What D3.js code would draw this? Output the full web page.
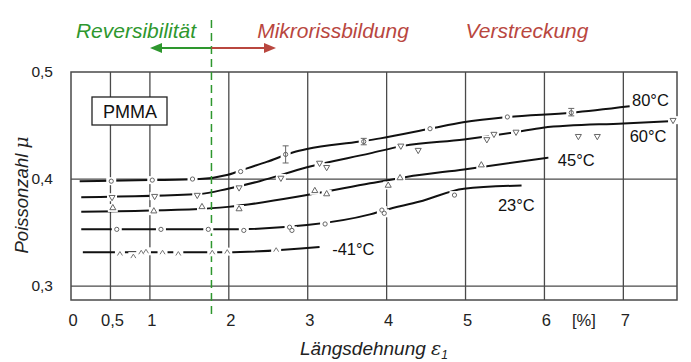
<!DOCTYPE html>
<html>
<head>
<meta charset="utf-8">
<script src="https://cdn.jsdelivr.net/npm/d3@7"></script>
<style>
  body { margin: 0; background: #fff; }
  svg { display: block; font-family: "Liberation Sans", Arial, sans-serif; }
</style>
</head>
<body>
<div id="chart"></div>
<script>
const W = 691, H = 362;
const xTicks = [0, 0.5, 1, 2, 3, 4, 5, 6, 7];
const xTickLabels = ["0", "0,5", "1", "2", "3", "4", "5", "6", "7"];
const xGrid = [0.5, 1, 2, 3, 4, 5, 6, 7];
const yTicks = [0.3, 0.4, 0.5];
const yTickLabels = ["0,3", "0,4", "0,5"];
const boundary = 1.78;

// fitted curves [strain %, mu]
const curve80 = [[0.11, 0.398], [1.0, 0.399], [1.63, 0.400], [1.99, 0.404], [2.23, 0.410], [2.48, 0.416], [2.82, 0.425], [2.99, 0.428], [3.66, 0.435], [3.92, 0.438], [4.55, 0.447], [4.97, 0.453], [5.53, 0.458], [6.34, 0.462], [7.08, 0.468]];
const curve60 = [[0.13, 0.383], [1.63, 0.386], [1.99, 0.391], [2.39, 0.398], [2.99, 0.411], [3.79, 0.424], [4.21, 0.431], [4.98, 0.437], [5.65, 0.444], [5.98, 0.448], [7.0, 0.452], [7.59, 0.454]];
const curve45 = [[0.13, 0.3695], [1.63, 0.372], [1.99, 0.374], [2.99, 0.385], [3.79, 0.396], [4.25, 0.402], [4.98, 0.409], [6.05, 0.420]];
const curve23 = [[0.13, 0.353], [1.99, 0.353], [2.99, 0.357], [3.79, 0.367], [3.98, 0.371], [4.42, 0.379], [4.98, 0.391], [5.71, 0.394]];
const curveM41 = [[0.15, 0.3316], [1.98, 0.3316], [3.15, 0.3366]];

// measured points
const pts80 = [[0.51, 0.398], [1.03, 0.399], [1.54, 0.400], [2.15, 0.407], [2.72, 0.423], [3.71, 0.435], [4.55, 0.447], [5.53, 0.458], [6.34, 0.462]];
const err80 = [[2.72, 0.415, 0.431], [3.71, 0.432, 0.438], [6.34, 0.459, 0.466]];
const pts60 = [[0.52, 0.383], [1.06, 0.384], [1.60, 0.385], [2.13, 0.392], [2.66, 0.401], [3.15, 0.415], [3.24, 0.411], [4.18, 0.431], [4.40, 0.427], [5.27, 0.437], [5.36, 0.442], [5.64, 0.444], [6.43, 0.440], [6.67, 0.440], [7.63, 0.455]];
const pts45 = [[0.53, 0.373], [1.05, 0.370], [1.66, 0.374], [2.13, 0.372], [3.09, 0.389], [3.24, 0.386], [4.02, 0.394], [4.17, 0.401], [5.20, 0.413]];
const pts23 = [[0.58, 0.353], [1.14, 0.353], [1.74, 0.353], [2.19, 0.352], [2.77, 0.355], [2.80, 0.352], [3.22, 0.358], [3.94, 0.371], [3.97, 0.368], [4.86, 0.385]];
const ptsM41 = [[0.62, 0.3304], [0.79, 0.328], [0.89, 0.3316], [0.95, 0.3325], [1.16, 0.3316], [1.36, 0.3304], [1.79, 0.3316], [1.98, 0.3322], [2.60, 0.334]];

const series = [
  { label: "80°C", curve: curve80, pts: pts80, marker: "circle", lx: 7.11, ly: 0.468 },
  { label: "60°C", curve: curve60, pts: pts60, marker: "down", lx: 7.08, ly: 0.435 },
  { label: "45°C", curve: curve45, pts: pts45, marker: "up", lx: 6.17, ly: 0.412 },
  { label: "23°C", curve: curve23, pts: pts23, marker: "circle", lx: 5.41, ly: 0.370 },
  { label: "-41°C", curve: curveM41, pts: ptsM41, marker: "caret", lx: 3.31, ly: 0.329 },
];

const green = "#2e972e";
const red = "#b9473f";

const svg = d3.select("#chart").append("svg").attr("width", W).attr("height", H);
const x = d3.scaleLinear().domain([0, 7.68]).range([71, 677]);
const y = d3.scaleLinear().domain([0.287, 0.5]).range([300, 72]);

// grid
svg.append("g").selectAll("line").data(xGrid).join("line")
  .attr("x1", d => x(d)).attr("x2", d => x(d))
  .attr("y1", y.range()[1]).attr("y2", y.range()[0])
  .attr("stroke", "#4a4a4a").attr("stroke-width", 1.3);
svg.append("g").selectAll("line").data([0.3, 0.4]).join("line")
  .attr("x1", x.range()[0]).attr("x2", x.range()[1])
  .attr("y1", d => y(d)).attr("y2", d => y(d))
  .attr("stroke", "#4a4a4a").attr("stroke-width", 1.3);
svg.append("rect")
  .attr("x", x.range()[0]).attr("y", y.range()[1])
  .attr("width", x.range()[1] - x.range()[0]).attr("height", y.range()[0] - y.range()[1])
  .attr("fill", "none").attr("stroke", "#4a4a4a").attr("stroke-width", 1.5);

// tick labels
svg.append("g").selectAll("text").data(xTicks).join("text")
  .attr("x", d => x(d) + 2).attr("y", 326)
  .attr("text-anchor", "middle").attr("font-size", 16.5).attr("fill", "#222")
  .text((d, i) => xTickLabels[i]);
svg.append("text").attr("x", x(6.5)).attr("y", 326).attr("text-anchor", "middle")
  .attr("font-size", 16.5).attr("fill", "#222").text("[%]");
svg.append("g").selectAll("text").data(yTicks).join("text")
  .attr("x", 53).attr("y", d => y(d) + 5)
  .attr("text-anchor", "end").attr("font-size", 15.5).attr("fill", "#222")
  .text((d, i) => yTickLabels[i]);

// axis titles
const xt = svg.append("text").attr("x", 374).attr("y", 355).attr("text-anchor", "middle")
  .attr("font-size", 19).attr("font-style", "italic").attr("fill", "#222");
xt.append("tspan").text("Längsdehnung ");
xt.append("tspan").attr("font-family", "DejaVu Serif").text("ε");
xt.append("tspan").attr("font-size", 12).attr("dy", 4).text("1");
const yt = svg.append("text").attr("transform", "translate(28,195) rotate(-90)")
  .attr("text-anchor", "middle").attr("font-size", 18.5).attr("font-style", "italic").attr("fill", "#222");
yt.append("tspan").text("Poissonzahl ");
yt.append("tspan").attr("font-family", "DejaVu Serif").text("μ");

// PMMA box
svg.append("rect").attr("x", 92).attr("y", 97).attr("width", 75).attr("height", 28)
  .attr("fill", "#fff").attr("stroke", "#222").attr("stroke-width", 1.3);
svg.append("text").attr("x", 130).attr("y", 118).attr("text-anchor", "middle")
  .attr("font-size", 18).attr("fill", "#111").text("PMMA");

// curves
const line = d3.line().x(d => x(d[0])).y(d => y(d[1])).curve(d3.curveMonotoneX);
const sym = {
  circle: d3.symbol().type(d3.symbolCircle).size(14),
  down: d3.symbol().type(d3.symbolTriangle).size(16),
  up: d3.symbol().type(d3.symbolTriangle).size(16),
};
const curveG = svg.append("g");
series.forEach(s => {
  curveG.append("path").datum(s.curve).attr("d", line)
    .attr("fill", "none").attr("stroke", "#111").attr("stroke-width", 2);
});

// boundary dashed line
svg.append("line").attr("x1", x(boundary)).attr("x2", x(boundary))
  .attr("y1", 20).attr("y2", 318)
  .attr("stroke", green).attr("stroke-width", 1.5).attr("stroke-dasharray", "8,5");

// markers with white gaps
const markG = svg.append("g");
series.forEach(s => {
  const g = markG.append("g");
  g.selectAll("rect").data(s.pts).join("rect")
    .attr("x", d => x(d[0]) - 5).attr("y", d => y(d[1]) - 4)
    .attr("width", 10).attr("height", 8).attr("fill", "#fff");
  if (s.marker === "caret") {
    g.selectAll("path").data(s.pts).join("path")
      .attr("d", d => `M${x(d[0]) - 2.5},${y(d[1]) + 2}L${x(d[0])},${y(d[1]) - 2}L${x(d[0]) + 2.5},${y(d[1]) + 2}`)
      .attr("fill", "none").attr("stroke", "#777").attr("stroke-width", 1);
  } else {
    g.selectAll("path").data(s.pts).join("path")
      .attr("transform", d => `translate(${x(d[0])},${y(d[1])})${s.marker === "down" ? " rotate(180)" : ""}`)
      .attr("d", sym[s.marker]())
      .attr("fill", "#fff").attr("stroke", "#666").attr("stroke-width", 1);
  }
});
// error bars
markG.append("g").selectAll("path").data(err80).join("path")
  .attr("d", d => `M${x(d[0])},${y(d[1])}V${y(d[2])}M${x(d[0]) - 3},${y(d[1])}h6M${x(d[0]) - 3},${y(d[2])}h6`)
  .attr("stroke", "#666").attr("stroke-width", 1).attr("fill", "none");

// series labels
svg.append("g").selectAll("text").data(series).join("text")
  .attr("x", d => x(d.lx)).attr("y", d => y(d.ly))
  .attr("font-size", 16.5).attr("fill", "#111")
  .text(d => d.label);

// region labels and arrows
svg.append("text").attr("x", 136).attr("y", 38).attr("text-anchor", "middle")
  .attr("font-size", 21).attr("font-style", "italic").attr("fill", green).text("Reversibilität");
svg.append("text").attr("x", 333).attr("y", 38).attr("text-anchor", "middle")
  .attr("font-size", 21).attr("font-style", "italic").attr("fill", red).text("Mikrorissbildung");
svg.append("text").attr("x", 527).attr("y", 38).attr("text-anchor", "middle")
  .attr("font-size", 21).attr("font-style", "italic").attr("fill", red).text("Verstreckung");

const ay = 48, ax = x(boundary);
svg.append("line").attr("x1", ax).attr("x2", 160).attr("y1", ay).attr("y2", ay)
  .attr("stroke", green).attr("stroke-width", 2);
svg.append("path").attr("d", `M150,${ay}L162,${ay - 5}L162,${ay + 5}Z`).attr("fill", green);
svg.append("line").attr("x1", ax).attr("x2", 266).attr("y1", ay).attr("y2", ay)
  .attr("stroke", red).attr("stroke-width", 2);
svg.append("path").attr("d", `M276,${ay}L264,${ay - 5}L264,${ay + 5}Z`).attr("fill", red);
</script>
</body>
</html>
